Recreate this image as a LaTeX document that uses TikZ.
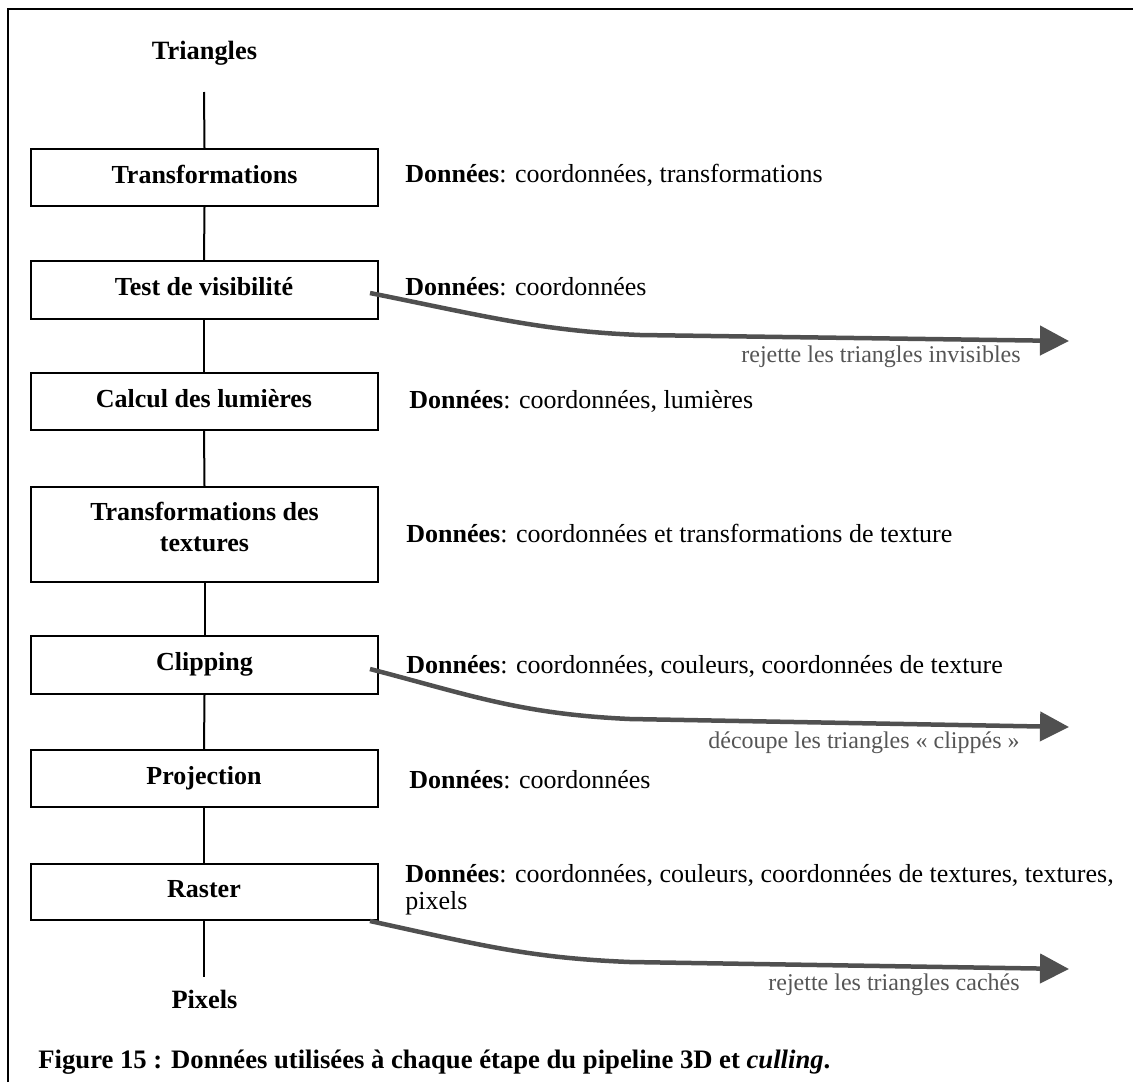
\documentclass[tikz,border=0pt]{standalone}
\usepackage{fontspec}
\setmainfont{Liberation Serif}
\usetikzlibrary{arrows.meta}
\definecolor{cullgray}{HTML}{505050}
\definecolor{notegray}{HTML}{555555}
\begin{document}
\begin{tikzpicture}[x=0.5pt,y=-0.5pt,
  frame/.style={line width=1pt,black},
  stage/.style={draw,line width=1pt,minimum width=173.5pt,minimum height=28.5pt,
    inner sep=0pt,font=\fontsize{13}{15.5}\selectfont\bfseries,
    text height=10pt,text depth=4.5pt},
  link/.style={line width=1pt},
  endlabel/.style={inner sep=0pt,anchor=base,font=\fontsize{13.2}{15.5}\selectfont\bfseries},
  data/.style={inner sep=0pt,anchor=base west,font=\fontsize{13}{15.5}\selectfont},
  cull/.style={line width=2.25pt,cullgray,-{Triangle[length=14.5pt,width=14.5pt]}},
  cullnote/.style={inner sep=0pt,anchor=base east,notegray,font=\fontsize{12}{14}\selectfont},
]
\useasboundingbox (0,0) rectangle (1133,1082);

% outer frame
\draw[frame] (8.3,1082) -- (8.3,9.3) -- (1133,9.3);

% pipeline stages
\node[endlabel] (tri) at (204.5,59) {Triangles};
\coordinate (tin) at (204,92);
\node[stage,minimum height=28.5pt] (transf) at (204.5,177.5) {Transformations};
\node[stage,minimum height=29pt] (vis) at (204,290) {Test de visibilité};
\node[stage,minimum height=28.5pt] (light) at (204,401.5) {Calcul des lumières};
\node[stage,minimum height=47.5pt,align=center,text height=,text depth=8pt,
  font=\fontsize{13}{15.5}\selectfont\bfseries] (tex) at (204.5,534.5)
  {Transformations des\\textures};
\node[stage,minimum height=29pt] (clip) at (204.5,665) {Clipping};
\node[stage,minimum height=28.5pt] (proj) at (204,778.5) {Projection};
\node[stage,minimum height=28pt] (rast) at (204,892) {Raster};
\coordinate (pout) at (204,977);
\node[endlabel] (pix) at (204.5,1008) {Pixels};

% vertical links
\draw[link] (tin) -- (transf.north);
\draw[link] (transf.south) -- (vis.north);
\draw[link] (vis.south) -- (light.north);
\draw[link] (light.south) -- (tex.north);
\draw[link] (tex.south) -- (clip.north);
\draw[link] (clip.south) -- (proj.north);
\draw[link] (proj.south) -- (rast.north);
\draw[link] (rast.south) -- (pout);

% data used at each stage
\node[data] (d1) at (405,182) {\textbf{Données}: coordonnées, transformations};
\node[data] (d2) at (405,295) {\textbf{Données}: coordonnées};
\node[data] (d3) at (409,408) {\textbf{Données}: coordonnées, lumières};
\node[data] (d4) at (406,542) {\textbf{Données}: coordonnées et transformations de texture};
\node[data] (d5) at (406,673) {\textbf{Données}: coordonnées, couleurs, coordonnées de texture};
\node[data] (d6) at (409,788) {\textbf{Données}: coordonnées};
\node[data] (d7) at (405,882) {\textbf{Données}: coordonnées, couleurs, coordonnées de textures, textures,};
\node[data] (d7b) at (405,909) {pixels};

% culling arrows
\coordinate (c1s) at (370,293);
\coordinate (c1e) at (1069,341);
\draw[cull] (c1s) .. controls (480,315) and (540,331) .. (640,335) -- (c1e);
\node[cullnote] (n1) at (1021,362) {rejette les triangles invisibles};

\coordinate (c2s) at (370,669);
\coordinate (c2e) at (1069,727);
\draw[cull] (c2s) .. controls (470,695) and (520,714) .. (630,719) -- (c2e);
\node[cullnote] (n2) at (1020,748) {découpe les triangles «~clippés~»};

\coordinate (c3s) at (370,921);
\coordinate (c3e) at (1069,969);
\draw[cull] (c3s) .. controls (480,945) and (530,958) .. (630,962) -- (c3e);
\node[cullnote] (n3) at (1020,990) {rejette les triangles cachés};

% caption
\node[inner sep=0pt,anchor=base west,font=\fontsize{13.33}{16}\selectfont\bfseries] (cap)
  at (38,1068) {Figure 15 : Données utilisées à chaque étape du pipeline 3D et \textit{culling}.};
\end{tikzpicture}
\end{document}
